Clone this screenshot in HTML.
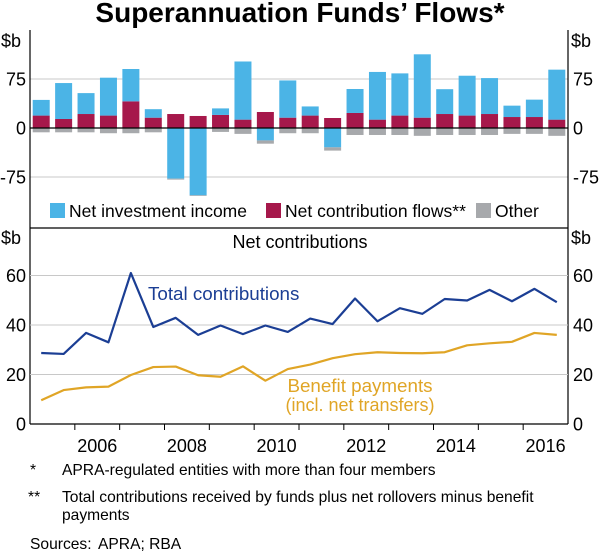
<!DOCTYPE html>
<html><head><meta charset="utf-8"><style>
body{margin:0;background:#fff}
svg{display:block;font-family:"Liberation Sans",Arial,sans-serif}
</style></head><body>
<svg id="c" width="600" height="554" viewBox="0 0 600 554">
<text x="300" y="22" text-anchor="middle" font-size="28" font-weight="bold">Superannuation Funds’ Flows*</text>
<g id="topPanel"></g>
<g id="botPanel"></g>
<g font-size="15.6" fill="#000">
<text x="30" y="475">*</text>
<text x="62" y="475">APRA-regulated entities with more than four members</text>
<text x="28" y="502">**</text>
<text x="62" y="502">Total contributions received by funds plus net rollovers minus benefit</text>
<text x="62" y="520">payments</text>
<text x="30" y="549">Sources:</text>
<text x="98" y="549">APRA; RBA</text>
</g>
</svg>
<script>
const invIncome=[24,55,32,58,49.5,13,-77.5,-103,10,89,-19,57,14,-29.6,36.7,73,64.6,97,38,61,55,17.4,26.6,76.5];
const netContrib=[19,13.8,21.4,19,40.8,15.8,21.4,18.4,20,12.8,24.5,15.8,19,15.3,23,12.8,19,15.8,21.4,19,21.4,16.8,16.8,12.8];
const otherFlows=[-6.6,-6.6,-6.6,-8,-8,-6.6,-1.5,-1,-6,-9,-5,-8,-8,-5,-10.7,-10.7,-10.7,-12,-10.7,-10.7,-10.7,-9,-9,-12];
const totalContrib=[28.7,28.3,36.8,33,61,39.2,42.9,36,39.8,36.3,39.8,37.2,42.6,40.4,50.7,41.5,46.8,44.5,50.5,49.9,54.2,49.6,54.6,49.2];
const benefitPay=[9.6,13.7,14.8,15.1,19.8,23,23.2,19.7,19.1,23.3,17.5,22.2,24,26.6,28.2,29,28.7,28.6,29,31.8,32.6,33.2,36.8,36];
const topTicks=[75,0,-75];
const botTicks=[60,40,20,0];
const yearLabels=[2006,2008,2010,2012,2014,2016];
const NS='http://www.w3.org/2000/svg';
const L=30,R=568,FS=18;
const xs=t=>L+(t-2005)*(R-L)/12;
const xi=i=>xs(2005.25+0.5*i);
const yt=v=>128-v*49/75;
const yb=v=>424-v*49.5/20;
function mk(p,tag,a){const e=document.createElementNS(NS,tag);for(const k in a)e.setAttribute(k,a[k]);p.appendChild(e);return e;}
const tg=document.getElementById('topPanel'),bg=document.getElementById('botPanel');
topTicks.forEach(v=>{if(v!==0){const g=mk(tg,'line',{x1:L,x2:R,y1:yt(v),y2:yt(v),stroke:'#c8c8c8','stroke-width':1});

}
[[L-4,'end'],[R+5,'start']].forEach(([x,a])=>{const t=mk(tg,'text',{x:x,y:yt(v)+6.5,'text-anchor':a,'font-size':FS});t.textContent=v;

});});
botTicks.forEach(v=>{if(v!==0){const g=mk(bg,'line',{x1:L,x2:R,y1:yb(v),y2:yb(v),stroke:'#c8c8c8','stroke-width':1});

}
[[L-4,'end'],[R+5,'start']].forEach(([x,a])=>{const t=mk(bg,'text',{x:x,y:yb(v)+6.5,'text-anchor':a,'font-size':FS});t.textContent=v;

});});
const bw=17;
invIncome.forEach((v,i)=>{
 const x=xi(i)-bw/2,c=netContrib[i],o=otherFlows[i];
 const r=mk(tg,'rect',{x:x,y:yt(c),width:bw,height:yt(0)-yt(c),fill:'#A6184B'});
 
 
 let b;
 if(v>=0){b=mk(tg,'rect',{x:x,y:yt(c+v),width:bw,height:yt(c)-yt(c+v),fill:'#4BB4E6'});}
 else{b=mk(tg,'rect',{x:x,y:yt(0),width:bw,height:yt(v)-yt(0),fill:'#4BB4E6'});}
 
 
 const base=v<0?v:0;
 const g=mk(tg,'rect',{x:x,y:yt(base),width:bw,height:yt(base+o)-yt(base),fill:'#A7A9AC'});
 
 
});
const z=mk(tg,'line',{x1:L,x2:R,y1:yt(0),y2:yt(0),stroke:'#000','stroke-width':1.2});


function line(arr,col,name){const p=mk(bg,'polyline',{points:arr.map((v,i)=>xi(i)+','+yb(v)).join(' '),fill:'none',stroke:col,'stroke-width':2.2,'stroke-linejoin':'round'});

}
line(totalContrib,'#1B3E94','line-total-contributions');
line(benefitPay,'#E0A526','line-benefit-payments');
for(let y=2006;y<=2016;y++){const t=mk(bg,'line',{x1:xs(y),x2:xs(y),y1:424,y2:430,stroke:'#000'});

}
yearLabels.forEach(y=>{const t=mk(bg,'text',{x:xs(y+0.5),y:452,'text-anchor':'middle','font-size':FS});t.textContent=y;

});
const ax=mk(bg,'line',{x1:L,x2:R,y1:424,y2:424,stroke:'#000','stroke-width':1.2});


const f=mk(tg,'path',{d:`M${L},30V424M${R},30V424M${L},228H${R}`,stroke:'#000','stroke-width':1.2,fill:'none'});


function txt(p,x,y,s,name,attrs){const t=mk(p,'text',Object.assign({x:x,y:y,'font-size':FS},attrs||{}));t.textContent=s;

return t;}
txt(tg,1,47,'$b','top-unit-left');
txt(tg,571,47,'$b','top-unit-right');
txt(bg,1,244,'$b','bottom-unit-left');
txt(bg,571,244,'$b','bottom-unit-right');
txt(bg,300,248,'Net contributions','bottom-panel-title',{'text-anchor':'middle'});
txt(bg,148,300,'Total contributions','label-total-contributions',{fill:'#1B3E94','font-size':18.8});
txt(bg,360,392,'Benefit payments','label-benefit-payments',{fill:'#E0A526','text-anchor':'middle','font-size':18.8});
txt(bg,360,411,'(incl. net transfers)','label-benefit-note',{fill:'#E0A526','text-anchor':'middle','font-size':18});
[[50,'#4BB4E6','Net investment income','legend-investment-income'],[266,'#A6184B','Net contribution flows**','legend-net-contribution'],[476,'#A7A9AC','Other','legend-other']].forEach(([x,c,s,n])=>{
 const r=mk(tg,'rect',{x:x,y:203,width:15,height:15,fill:c});
 
 
 txt(tg,x+19,217,s,n,{'font-size':17.5});
});
</script>
</body></html>
